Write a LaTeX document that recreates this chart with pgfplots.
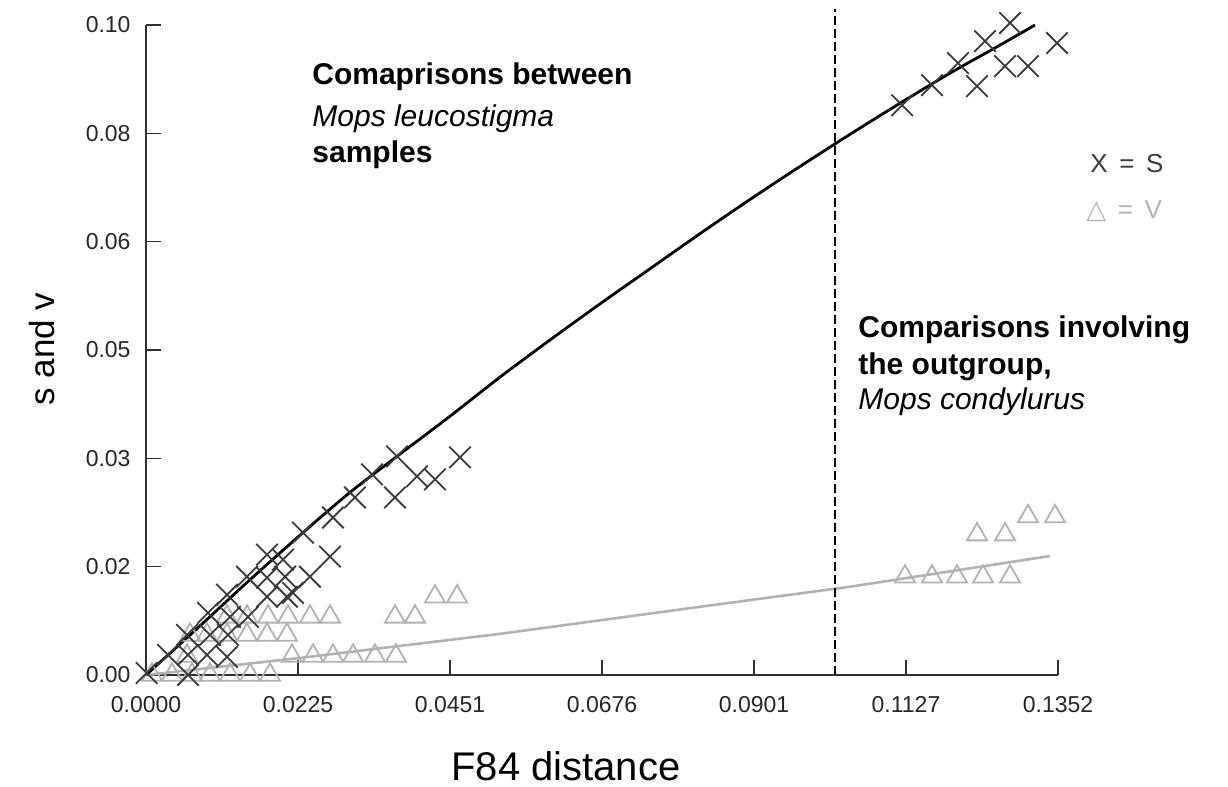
\documentclass[border=0pt]{standalone}
\usepackage{pgfplots}
\pgfplotsset{compat=1.18}
\usepackage{fontspec}
\setmainfont{Liberation Sans}
\newfontfamily\symfont{DejaVu Sans}
\definecolor{xgray}{HTML}{3A3A3A}
\definecolor{vgray}{HTML}{B2B2B2}
\definecolor{axgray}{HTML}{303030}
\begin{document}
\begin{tikzpicture}
\useasboundingbox (0,0) rectangle (614pt,393.5pt);
\begin{axis}[
  at={(73pt,56pt)}, anchor=south west,
  scale only axis, width=456pt, height=325pt,
  xmin=0, xmax=0.1352, ymin=0, ymax=0.1,
  axis lines*=left,
  axis line style={line width=1pt, axgray},
  tick align=inside, major tick length=7.5pt,
  tick style={line width=0.8pt, axgray},
  xtick={0,0.0225333,0.0450667,0.0676,0.0901333,0.1126667,0.1352},
  xticklabels={0.0000,0.0225,0.0451,0.0676,0.0901,0.1127,0.1352},
  ytick={0,0.0166667,0.0333333,0.05,0.0666667,0.0833333,0.1},
  yticklabels={0.00,0.02,0.03,0.05,0.06,0.08,0.10},
  ticklabel style={font=\fontsize{11.5}{13}\selectfont, text=black!85},
  yticklabel style={xshift=-4.2pt},
  xticklabel style={yshift=-7.2pt},
  clip=false,
]
% V triangles
\addplot[only marks, mark=triangle, mark size=5.8pt, vgray, mark options={line width=0.9pt}] coordinates {
(0.00089,0) (0.00385,0) (0.00682,0) (0.00949,0) (0.01245,0) (0.01542,0) (0.01838,0)
(0.00608,0.00293) (0.02164,0.00293) (0.02476,0.00293) (0.02772,0.00293) (0.03069,0.00293) (0.03395,0.00293) (0.03706,0.00293)
(0.00652,0.00617) (0.00904,0.00617) (0.01201,0.00617) (0.01497,0.00617) (0.01794,0.00617) (0.02090,0.00617)
(0.01201,0.00895) (0.01497,0.00895) (0.01809,0.00895) (0.02105,0.00895) (0.02431,0.00895) (0.02728,0.00895)
(0.03691,0.00895) (0.03988,0.00895)
(0.04284,0.01204) (0.04611,0.01204)
(0.11252,0.01512) (0.11652,0.01512) (0.12023,0.01512) (0.12409,0.01512) (0.12809,0.01512)
(0.12320,0.02160) (0.12735,0.02160) (0.13076,0.02438) (0.13476,0.02438)
};
% V line
\addplot[vgray, line width=1.3pt] coordinates {
(0,0) (0.02283,0.00262) (0.05248,0.00633) (0.08213,0.01049) (0.10437,0.01358) (0.13400,0.01830)
};
% S crosses
\addplot[only marks, mark=x, mark size=7.6pt, xgray, mark options={line width=0.9pt}] coordinates {
(0.0001,0.0003) (0.00623,0) (0.00326,0.00309) (0.00623,0.00309) (0.00904,0.00309) (0.01201,0.00278)
(0.00608,0.00617) (0.00949,0.00617) (0.01216,0.00617) (0.00919,0.00957) (0.01245,0.00895) (0.01512,0.00895)
(0.01201,0.01235) (0.01794,0.01204) (0.02090,0.01204) (0.01497,0.01512) (0.01794,0.01497) (0.02061,0.01512)
(0.02431,0.01512) (0.01794,0.01852) (0.02031,0.01775) (0.02328,0.02191) (0.02728,0.01821) (0.02179,0.01265)
(0.02772,0.02423) (0.03098,0.02731) (0.03350,0.03086) (0.03721,0.03364) (0.03691,0.02731) (0.04018,0.03056)
(0.04284,0.03009) (0.04655,0.03349)
(0.11208,0.08765) (0.11652,0.09074) (0.12038,0.09414) (0.12438,0.09753) (0.12809,0.10031)
(0.12320,0.09059) (0.12735,0.09367) (0.13076,0.09367) (0.13506,0.09722)
};
% S line
\addplot[black, line width=1.4pt, smooth] coordinates {
(0,0) (0.00801,0.00756) (0.01542,0.01466) (0.02328,0.02191) (0.03024,0.02809) (0.03721,0.03364)
(0.04507,0.03981) (0.05248,0.04583) (0.05989,0.05154) (0.06731,0.05710) (0.07472,0.06250)
(0.08213,0.06790) (0.08954,0.07315) (0.09696,0.07824) (0.10437,0.08318) (0.11178,0.08796)
(0.11919,0.09259) (0.12661,0.09691) (0.13179,0.10000)
};
% dashed divider
\addplot[black, line width=0.6pt, dash pattern=on 4.5pt off 2pt] coordinates {(0.10214,0) (0.10214,0.1025)};
\end{axis}
% annotations (positions in pt: x = px/2, y = (787-py)/2)
\node[anchor=base west, inner sep=0, font=\fontsize{15}{18}\selectfont\bfseries] at (156pt,351pt) {Comaprisons between};
\node[anchor=base west, inner sep=0, font=\fontsize{15}{18}\selectfont\itshape] at (156pt,330pt) {Mops leucostigma};
\node[anchor=base west, inner sep=0, font=\fontsize{15}{18}\selectfont\bfseries] at (156pt,312pt) {samples};
\node[anchor=base west, inner sep=0, font=\fontsize{15}{18}\selectfont\bfseries] at (429pt,224.5pt) {Comparisons involving};
\node[anchor=base west, inner sep=0, font=\fontsize{15}{18}\selectfont\bfseries] at (429pt,206pt) {the outgroup,};
\node[anchor=base west, inner sep=0, font=\fontsize{15}{18}\selectfont\itshape] at (429pt,188.5pt) {Mops condylurus};
% legend text
\node[anchor=base west, inner sep=0, font=\fontsize{13}{15}\selectfont, text=xgray] at (545pt,307pt) {X\, =\, S};
\node[anchor=base west, inner sep=0, font=\fontsize{13}{15}\selectfont, text=vgray] at (543pt,284pt) {{\symfont △}\, =\, V};
% axis titles
\node[anchor=base, inner sep=0, font=\fontsize{20}{23}\selectfont] at (283pt,3pt) {F84 distance};
\node[anchor=base, inner sep=0, rotate=90, font=\fontsize{17.5}{21}\selectfont] at (27pt,219pt) {s and v};
\end{tikzpicture}
\end{document}
